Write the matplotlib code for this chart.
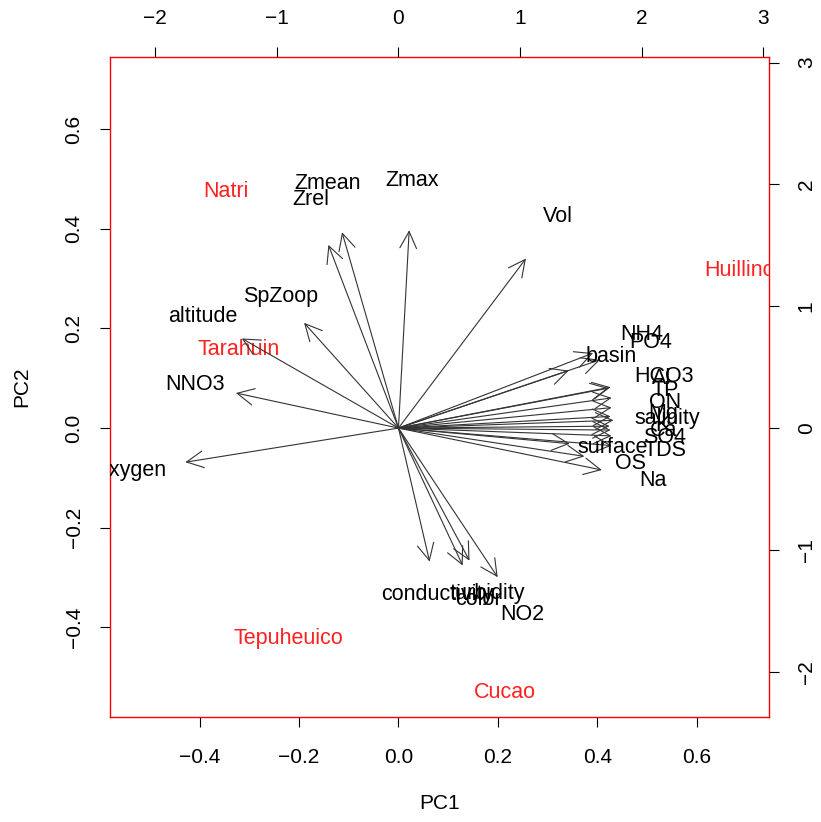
import numpy as np
import matplotlib
matplotlib.use("Agg")
import matplotlib.pyplot as plt

plt.rcParams['font.family'] = ['Liberation Sans', 'DejaVu Sans']

# site scores (bottom / left axes)
sites = ['Natri', 'Tarahuin', 'Huillinco', 'Tepuheuico', 'Cucao']
site_pc1 = [-0.347, -0.321, 0.696, -0.221, 0.213]
site_pc2 = [0.474, 0.157, 0.317, -0.422, -0.531]

# variable loadings (top / right axes)
variables = ['Zmean', 'Zrel', 'Zmax', 'Vol', 'SpZoop', 'altitude', 'NNO3', 'oxygen',
             'NH4', 'PO4', 'basin', 'HCO3', 'Al', 'TP', 'ON', 'salinity', 'Mg', 'K',
             'Ca', 'SO4', 'TDS', 'surface', 'OS', 'Na',
             'conductivity', 'turbidity', 'color', 'NO2']
load_pc1 = [-0.58, -0.72, 0.11, 1.31, -0.97, -1.61, -1.67, -2.19,
            2.00, 2.07, 1.75, 2.18, 2.16, 2.19, 2.19, 2.21, 2.18, 2.17,
            2.18, 2.19, 2.19, 1.76, 1.91, 2.09,
            0.32, 0.73, 0.66, 1.02]
load_pc2 = [2.01, 1.88, 2.03, 1.74, 1.08, 0.92, 0.36, -0.35,
            0.77, 0.70, 0.59, 0.42, 0.41, 0.31, 0.21, 0.08, 0.12, 0.02,
            -0.02, -0.08, -0.18, -0.16, -0.29, -0.43,
            -1.37, -1.36, -1.41, -1.53]

lim = (-0.580, 0.745)
scale = 4.089

fig = plt.figure(figsize=(8.21, 8.22), dpi=100)
pos = [110/821, 1 - 717/822, 659/821, 660/822]
ax = fig.add_axes(pos)
ax.set_xlim(lim)
ax.set_ylim(lim)
for s in ax.spines.values():
    s.set_color('red')
    s.set_linewidth(1.0)
ax.set_xticks([-0.4, -0.2, 0.0, 0.2, 0.4, 0.6])
ax.set_yticks([-0.4, -0.2, 0.0, 0.2, 0.4, 0.6])
ax.set_xticklabels(['\u22120.4', '\u22120.2', '0.0', '0.2', '0.4', '0.6'])
ax.set_yticklabels(['\u22120.4', '\u22120.2', '0.0', '0.2', '0.4', '0.6'], rotation=90, va='center')
ax.tick_params(axis='x', length=7, width=0.8, pad=15, labelsize=15)
ax.tick_params(axis='y', length=7, width=0.8, pad=12, labelsize=15)
ax.set_xlabel('PC1', fontsize=15, labelpad=20)
ax.set_ylabel('PC2', fontsize=15, labelpad=24)

for name, x, y in zip(sites, site_pc1, site_pc2):
    ax.text(x, y, name, color='#ff2020', fontsize=15.5, ha='center', va='center', clip_on=True)

ax2 = fig.add_axes(pos, frameon=False)
ax2.set_xlim(lim[0]*scale, lim[1]*scale)
ax2.set_ylim(lim[0]*scale, lim[1]*scale)
ax2.xaxis.tick_top()
ax2.yaxis.tick_right()
ax2.set_xticks([-2, -1, 0, 1, 2, 3])
ax2.set_yticks([-2, -1, 0, 1, 2, 3])
ax2.set_xticklabels(['\u22122', '\u22121', '0', '1', '2', '3'])
ax2.set_yticklabels(['\u22122', '\u22121', '0', '1', '2', '3'], rotation=90, va='center')
ax2.tick_params(axis='x', length=7, width=0.8, pad=14, labelsize=15)
ax2.tick_params(axis='y', length=7, width=0.8, pad=13, labelsize=15)

for name, x, y in zip(variables, load_pc1, load_pc2):
    ax2.annotate('', xy=(0.8*x, 0.8*y), xytext=(0, 0),
                 arrowprops=dict(arrowstyle='->,head_length=0.6,head_width=0.3',
                                 mutation_scale=20, color='#333333', lw=0.8,
                                 shrinkA=0, shrinkB=0))
    ax2.text(x, y, name, color='black', fontsize=15.5, ha='center', va='center', clip_on=True)

fig.savefig('out.png', dpi=100)
